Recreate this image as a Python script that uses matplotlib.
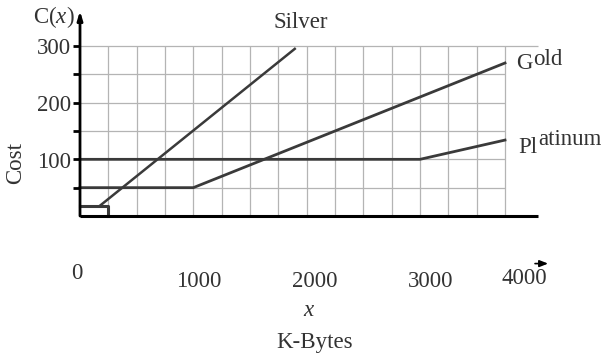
"""Cost of three data plans (Silver, Gold, Platinum) vs. K-Bytes used."""

import matplotlib

matplotlib.use("Agg")

import matplotlib.pyplot as plt
import numpy as np

# plan curves (K-Bytes, cost)
silver_box_x = [0, 250, 250]
silver_box_y = [18, 18, 0]
silver_x = [175, 1895]
silver_y = [18, 295]
gold_x = [0, 1000, 3750]
gold_y = [50, 50, 270]
platinum_x = [0, 3000, 3750]
platinum_y = [100, 100, 134]

grid_x = np.arange(250, 3751, 250)
grid_y = np.arange(50, 301, 50)
ytick_vals = [100, 200, 300]
xtick_labels = ["0", "1000", "2000", "3000", "4000"]

# where the x labels sit in the original figure (data units, not aligned to ticks)
xlabel_pos = [(-26, -101), (1050, -115), (2073, -115), (3097, -115), (3918, -111)]

plt.rcParams["font.family"] = ["Liberation Serif", "DejaVu Serif"]
plt.rcParams["mathtext.fontset"] = "custom"
plt.rcParams["mathtext.rm"] = "Liberation Serif"
plt.rcParams["mathtext.it"] = "Liberation Serif:italic"

TXT = "#333333"
LINE = "#3a3a3a"
FS = 16.5

fig = plt.figure(figsize=(6.05, 3.56), dpi=100)
ax = fig.add_axes([0, 0, 1, 1])
ax.set_xlim(-705.9, 4632.4)
ax.set_ylim(-247.1, 381.2)
ax.axis("off")

# grid
ax.vlines(grid_x, 0, 300, color="#b4b4b4", lw=0.9, zorder=1)
ax.hlines(grid_y[:-1], 0, 3750, color="#b4b4b4", lw=0.9, zorder=1)
ax.hlines(grid_y[-1], 0, 4040, color="#b4b4b4", lw=0.9, zorder=1)

# axes
ax.plot([0, 4040], [0, 0], color="black", lw=2.2, zorder=3, solid_capstyle="butt")
ax.annotate("", xy=(0, 362), xytext=(0, 0),
            arrowprops=dict(arrowstyle="-|>,head_length=0.5,head_width=0.15",
                            color="black", lw=2.0, shrinkA=0, shrinkB=0), zorder=3)
ax.hlines(grid_y, -62, 0, color="black", lw=2.0, zorder=3)

# plans
ax.plot(silver_box_x, silver_box_y, color=LINE, lw=2.2, zorder=2)
ax.plot(silver_x, silver_y, color=LINE, lw=1.8, zorder=2)
ax.plot(gold_x, gold_y, color=LINE, lw=2.0, zorder=2)
ax.plot(platinum_x, platinum_y, color=LINE, lw=2.0, zorder=2)

# y labels
for v in ytick_vals:
    ax.text(-80, v - 5, str(v), ha="right", va="center", fontsize=FS, color=TXT)
ax.text(-415, 340, r"C($x$)", ha="left", va="baseline", fontsize=FS, color=TXT)
ax.text(-569, 94, "Cost", rotation=90, ha="center", va="center", fontsize=FS, color=TXT)

# x labels
for lab, (px, py) in zip(xtick_labels, xlabel_pos):
    ax.text(px, py, lab, ha="center", va="center", fontsize=FS, color=TXT)
ax.annotate("", xy=(4130, -84), xytext=(4015, -84),
            arrowprops=dict(arrowstyle="-|>,head_length=0.5,head_width=0.2",
                            color="black", lw=1.2, shrinkA=0, shrinkB=0))
ax.text(2021, -166, r"$x$", ha="center", va="center", fontsize=FS, color=TXT)
ax.text(2074, -224, "K-Bytes", ha="center", va="center", fontsize=FS, color=TXT)

# plan names (second part raised, as in the original)
ax.text(1950, 332, "Silver", ha="center", va="baseline", fontsize=FS, color=TXT)
ax.text(3847, 259, "G", ha="left", va="baseline", fontsize=FS, color=TXT)
ax.text(3997, 267, "old", ha="left", va="baseline", fontsize=FS, color=TXT)
ax.text(3865, 111, "Pl", ha="left", va="baseline", fontsize=FS, color=TXT)
ax.text(4041, 125, "atinum", ha="left", va="baseline", fontsize=FS, color=TXT)

fig.savefig("out.png", dpi=100)
